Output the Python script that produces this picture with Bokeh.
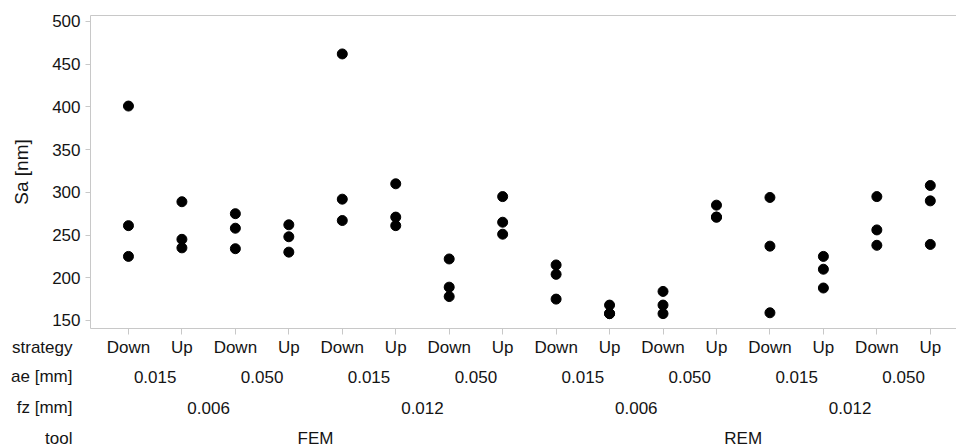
from bokeh.plotting import figure
from bokeh.models import LinearAxis, FixedTicker, Range1d, ColumnDataSource
from bokeh.core.properties import value
from bokeh.embed import file_html
from bokeh.resources import INLINE

# ---- data ----
tool = ["FEM"] * 8 + ["REM"] * 8
fz = ["0.006"] * 4 + ["0.012"] * 4 + ["0.006"] * 4 + ["0.012"] * 4
ae = ["0.015", "0.015", "0.050", "0.050"] * 4
strategy = ["Down", "Up"] * 8
sa_values = [
    [401, 261, 225],
    [289, 245, 235],
    [275, 258, 234],
    [262, 248, 230],
    [462, 292, 267],
    [310, 271, 261],
    [222, 189, 178],
    [295, 265, 251],
    [215, 204, 175],
    [168, 158, 158],
    [184, 168, 158],
    [285, 271, 271],
    [294, 237, 159],
    [225, 210, 188],
    [295, 256, 238],
    [308, 290, 239],
]
row_names = ["strategy", "ae [mm]", "fz [mm]", "tool"]
y_ticks = [150, 200, 250, 300, 350, 400, 450, 500]

FONT = "Liberation Sans"
TXT = "#141414"
GREY = "#c8c8c8"
X_RANGE = (-0.71, 15.49)
W = 956
LEFT = 90

xs, ys = [], []
for i, vals in enumerate(sa_values):
    for v in vals:
        xs.append(i)
        ys.append(v)
src = ColumnDataSource(dict(x=xs, y=ys))

# ---------------- main plot ----------------
p = figure(width=W, height=335, output_backend="svg", toolbar_location=None,
           x_range=Range1d(*X_RANGE), y_range=Range1d(140.6, 507.0),
           min_border_left=LEFT, min_border_right=0, min_border_top=15,
           min_border_bottom=7)
p.outline_line_color = None
p.grid.visible = False
p.background_fill_color = "white"
p.border_fill_color = "white"

p.scatter("x", "y", source=src, size=10, color="black")

ya = p.yaxis[0]
ya.ticker = FixedTicker(ticks=y_ticks)
ya.axis_label = "Sa [nm]"
ya.axis_label_text_font = FONT
ya.axis_label_text_font_size = "19px"
ya.axis_label_text_font_style = "normal"
ya.axis_label_text_color = TXT
ya.axis_label_standoff = 17
ya.major_label_text_font = FONT
ya.major_label_text_font_size = "17px"
ya.major_label_text_color = TXT
ya.major_label_standoff = 5
ya.major_tick_in = 0
ya.major_tick_out = 5
ya.major_tick_line_color = GREY
ya.minor_tick_line_color = None
ya.axis_line_color = GREY

xa = p.xaxis[0]
xa.ticker = FixedTicker(ticks=[float(i) for i in range(len(strategy))])
xa.major_label_text_color = None
xa.major_label_standoff = 0
xa.major_tick_in = 0
xa.major_tick_out = 6
xa.major_tick_line_color = GREY
xa.minor_tick_line_color = None
xa.axis_line_color = GREY

top = LinearAxis(ticker=FixedTicker(ticks=[]), major_label_standoff=0,
                 major_tick_line_color=None, minor_tick_line_color=None,
                 major_tick_out=0, major_tick_in=0, axis_line_color=GREY)
p.add_layout(top, "above")

# ---------------- hierarchical category labels ----------------
def group_centers(labels, size):
    centers, names = [], []
    for start in range(0, len(labels), size):
        centers.append(start + (size - 1) / 2)
        names.append(labels[start])
    return centers, names


cat_w = (W - LEFT) / (X_RANGE[1] - X_RANGE[0])
b_h = 448 - 335
b = figure(width=W, height=b_h, output_backend="svg", toolbar_location=None,
           x_axis_location=None, y_axis_location=None,
           x_range=Range1d(X_RANGE[0] - LEFT / cat_w, X_RANGE[1]),
           y_range=Range1d(b_h, 0),
           min_border_left=0, min_border_right=0, min_border_top=0,
           min_border_bottom=0)
b.grid.visible = False
b.outline_line_color = None
b.extra_x_ranges = {"px": Range1d(0, W)}

row_pos = [12, 41, 72, 103]   # vertical pixel offsets of the four label rows

lx, ly, lt = [], [], []
for i, s in enumerate(strategy):
    lx.append(i); ly.append(row_pos[0]); lt.append(s)
for row, (labels, size) in enumerate(((ae, 2), (fz, 4), (tool, 8)), start=1):
    c, n = group_centers(labels, size)
    for cc, nn in zip(c, n):
        lx.append(cc); ly.append(row_pos[row]); lt.append(nn)

b.text(x=lx, y=ly, text=lt, text_font=value(FONT), text_font_size=value("17px"),
       text_color=TXT, text_align="center", text_baseline="middle")

b.text(x=[72] * 4, y=row_pos, text=row_names, x_range_name="px",
       text_font=value(FONT), text_font_size=value("17px"),
       text_color=TXT, text_align="right", text_baseline="middle")

open("out.html", "w").write(file_html([p, b], INLINE))
